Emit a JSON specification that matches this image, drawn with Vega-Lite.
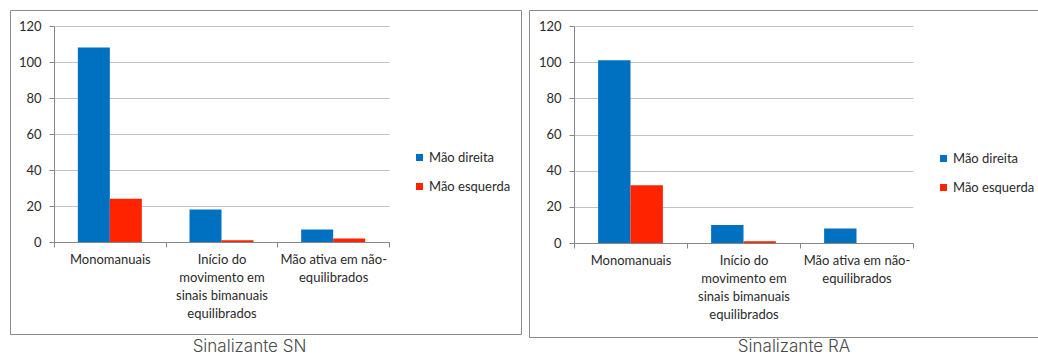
{
  "$schema": "https://vega.github.io/schema/vega-lite/v6.json",
  "padding": {"left": 9, "top": 9, "right": 0, "bottom": 0},
  "background": "#ffffff",
  "datasets": {
    "sn": [
      {"categoria": "Monomanuais", "mao": "Mão direita", "valor": 108},
      {"categoria": "Monomanuais", "mao": "Mão esquerda", "valor": 24},
      {"categoria": "Início do\nmovimento em\nsinais bimanuais\nequilibrados", "mao": "Mão direita", "valor": 18},
      {"categoria": "Início do\nmovimento em\nsinais bimanuais\nequilibrados", "mao": "Mão esquerda", "valor": 1},
      {"categoria": "Mão ativa em não-\nequilibrados", "mao": "Mão direita", "valor": 7},
      {"categoria": "Mão ativa em não-\nequilibrados", "mao": "Mão esquerda", "valor": 2}
    ],
    "ra": [
      {"categoria": "Monomanuais", "mao": "Mão direita", "valor": 101},
      {"categoria": "Monomanuais", "mao": "Mão esquerda", "valor": 32},
      {"categoria": "Início do\nmovimento em\nsinais bimanuais\nequilibrados", "mao": "Mão direita", "valor": 10},
      {"categoria": "Início do\nmovimento em\nsinais bimanuais\nequilibrados", "mao": "Mão esquerda", "valor": 1},
      {"categoria": "Mão ativa em não-\nequilibrados", "mao": "Mão direita", "valor": 8},
      {"categoria": "Mão ativa em não-\nequilibrados", "mao": "Mão esquerda", "valor": 0}
    ]
  },
  "hconcat": [
    {
      "width": 511,
      "height": 324,
      "data": {"name": "sn"},
      "title": {"text": "Sinalizante SN", "orient": "bottom", "offset": 5, "dx": -16},
      "mark": {"type": "bar"},
      "encoding": {
        "x": {
          "field": "categoria", "type": "nominal", "sort": null,
          "scale": {"range": [44, 379], "paddingInner": 0, "paddingOuter": 0},
          "axis": {"offset": -92}
        },
        "xOffset": {
          "field": "mao", "type": "nominal", "sort": null,
          "scale": {"paddingInner": 0, "paddingOuter": 0.745}
        },
        "y": {
          "field": "valor", "type": "quantitative",
          "scale": {"domain": [0, 120], "range": [232, 16], "nice": false},
          "axis": {"offset": -44, "values": [0, 20, 40, 60, 80, 100, 120]}
        },
        "color": {
          "field": "mao", "type": "nominal",
          "scale": {"domain": ["Mão direita", "Mão esquerda"], "range": ["#0070C0", "#FF2300"]},
          "legend": {"legendX": 403, "legendY": 141}
        }
      }
    },
    {
      "width": 512,
      "height": 327,
      "data": {"name": "ra"},
      "title": {"text": "Sinalizante RA", "orient": "bottom", "offset": 2, "dx": 9},
      "mark": {"type": "bar"},
      "encoding": {
        "x": {
          "field": "categoria", "type": "nominal", "sort": null,
          "scale": {"range": [45, 384], "paddingInner": 0, "paddingOuter": 0},
          "axis": {"offset": -94}
        },
        "xOffset": {
          "field": "mao", "type": "nominal", "sort": null,
          "scale": {"paddingInner": 0, "paddingOuter": 0.745}
        },
        "y": {
          "field": "valor", "type": "quantitative",
          "scale": {"domain": [0, 120], "range": [233, 16], "nice": false},
          "axis": {"offset": -45, "values": [0, 20, 40, 60, 80, 100, 120]}
        },
        "color": {
          "field": "mao", "type": "nominal",
          "scale": {"domain": ["Mão direita", "Mão esquerda"], "range": ["#0070C0", "#FF2300"]},
          "legend": {"legendX": 408, "legendY": 142}
        }
      }
    }
  ],
  "spacing": 8,
  "bounds": "flush",
  "resolve": {"scale": {"x": "independent", "y": "independent", "color": "independent", "xOffset": "independent"}, "legend": {"color": "independent"}},
  "config": {
    "view": {"stroke": "#8a8a8a", "strokeWidth": 1},
    "bar": {"strokeWidth": 0},
    "title": {"font": "Inter", "fontSize": 17, "fontWeight": 300, "color": "#4a4a4a", "baseline": "top", "anchor": "middle"},
    "axis": {
      "title": null,
      "labelFont": "Lato",
      "labelColor": "#2a2a2a",
      "domainColor": "#868686",
      "tickColor": "#868686",
      "tickSize": 5,
      "gridColor": "#c3c3c3"
    },
    "axisX": {
      "grid": false,
      "tickBand": "extent",
      "labelAngle": 0,
      "labelFontSize": 13,
      "labelLimit": 0,
      "labelPadding": 6,
      "labelLineHeight": 18.3,
      "labelExpr": "split(datum.label, '\\n')"
    },
    "axisY": {
      "grid": true,
      "labelFontSize": 13,
      "labelPadding": 8
    },
    "legend": {
      "orient": "none",
      "title": null,
      "padding": 0,
      "symbolType": "square",
      "symbolSize": 49,
      "symbolStrokeWidth": 0,
      "labelFont": "Lato",
      "labelFontSize": 13,
      "labelColor": "#2a2a2a",
      "labelOffset": 3,
      "rowPadding": 15
    }
  }
}
